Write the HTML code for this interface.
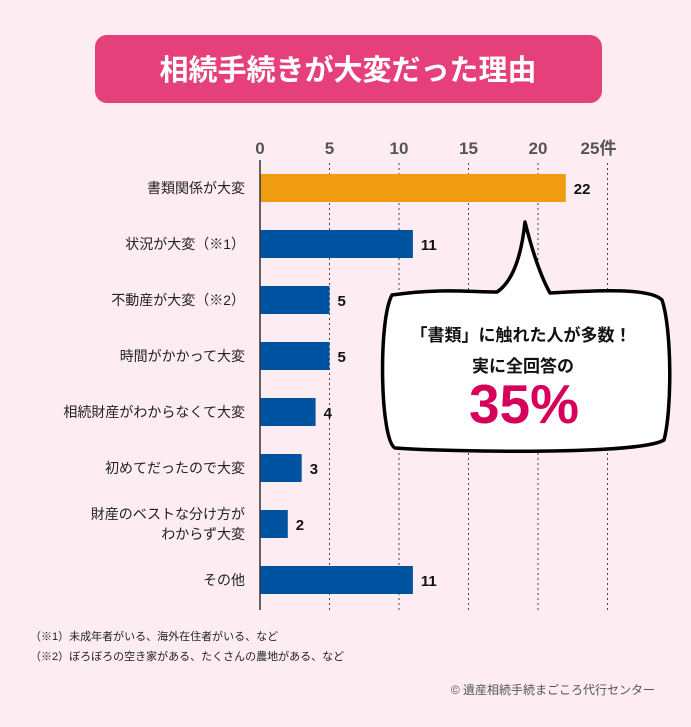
<!DOCTYPE html>
<html><head><meta charset="utf-8"><style>
body{margin:0;background:#fdedf3;font-family:"Liberation Sans","Noto Sans CJK JP",sans-serif;}
#wrap{position:relative;width:691px;height:727px;background:#fdedf3;overflow:hidden}
</style></head><body>
<div id="wrap">
<svg id="chart" width="691" height="727" style="position:absolute;left:0;top:0">
<rect x="95" y="35" width="507" height="68" rx="12" fill="#e6407a"/>
<text x="348" y="80" text-anchor="middle" font-size="29" font-weight="bold" fill="#fff">相続手続きが大変だった理由</text>
<g id="grid"></g><g id="bars"></g>
<line x1="260" y1="160" x2="260" y2="610" stroke="#333" stroke-width="1.5"/>
<g>
<path d="M392,295 C440,288 470,292 497,292 C515,280 522,250 525,222 C532,250 540,275 550,293 C600,290 650,288 662,300 C672,330 672,410 664,440 C640,455 450,452 395,448 C380,440 378,320 392,295 Z" fill="#fff" stroke="#000" stroke-width="3.5" stroke-linejoin="round"/>
<text x="521" y="341" text-anchor="middle" font-size="17" font-weight="bold" fill="#111">「書類」に触れた人が多数！</text>
<text x="523" y="372" text-anchor="middle" font-size="17" font-weight="bold" fill="#111">実に全回答の</text>
<text x="524" y="423" text-anchor="middle" font-size="55" font-weight="bold" fill="#d6005a">35%</text>
</g>
<text x="30" y="640" font-size="11" fill="#222">（※1）未成年者がいる、海外在住者がいる、など</text>
<text x="30" y="660" font-size="11" fill="#222">（※2）ぼろぼろの空き家がある、たくさんの農地がある、など</text>
<text x="655" y="694" text-anchor="end" font-size="12" fill="#555">© 遺産相続手続まごころ代行センター</text>
</svg>
</div>
<script>
const categories=["書類関係が大変","状況が大変（※1）","不動産が大変（※2）","時間がかかって大変","相続財産がわからなくて大変","初めてだったので大変","財産のベストな分け方が|わからず大変","その他"];
const values=[22,11,5,5,4,3,2,11];
const ticks=[0,5,10,15,20,25];
const tickLabels=["0","5","10","15","20","25件"];
const NS="http://www.w3.org/2000/svg";
const x0=260,pxPer=13.9,rowTop=188,rowStep=56,barH=28;
const xs=v=>x0+v*pxPer;
const ys=i=>rowTop+i*rowStep;
function mk(t,a,p){const e=document.createElementNS(NS,t);for(const k in a)e.setAttribute(k,a[k]);p.appendChild(e);return e;}
const grid=document.getElementById('grid'),bars=document.getElementById('bars');
ticks.forEach((t,i)=>{
  if(i>0){const l=mk('line',{x1:xs(t),x2:xs(t),y1:163,y2:610,stroke:'#444','stroke-width':1,'stroke-dasharray':'2,3'},grid);
  
  }
  const tx=mk('text',{x:xs(t)-(i==5?9:0),y:154,'text-anchor':'middle','font-size':17,'font-weight':'bold',fill:'#555'},grid);
  tx.textContent=tickLabels[i];
  
  
});
values.forEach((v,i)=>{
  const r=mk('rect',{x:x0,y:ys(i)-barH/2,width:xs(v)-x0,height:barH,fill:i==0?'#ef9c11':'#0053a0'},bars);
  
  
  const vl=mk('text',{x:xs(v)+8,y:ys(i)+6,'font-size':15,'font-weight':'bold',fill:'#111'},bars);
  vl.textContent=v;
  
  
  const parts=categories[i].split('|');
  parts.forEach((p,j)=>{
    const c=mk('text',{x:245,y:ys(i)+5+(j-(parts.length-1)/2)*20,'text-anchor':'end','font-size':14,fill:'#222'},bars);
    c.textContent=p;
    
    
  });
});
</script>
</body></html>
